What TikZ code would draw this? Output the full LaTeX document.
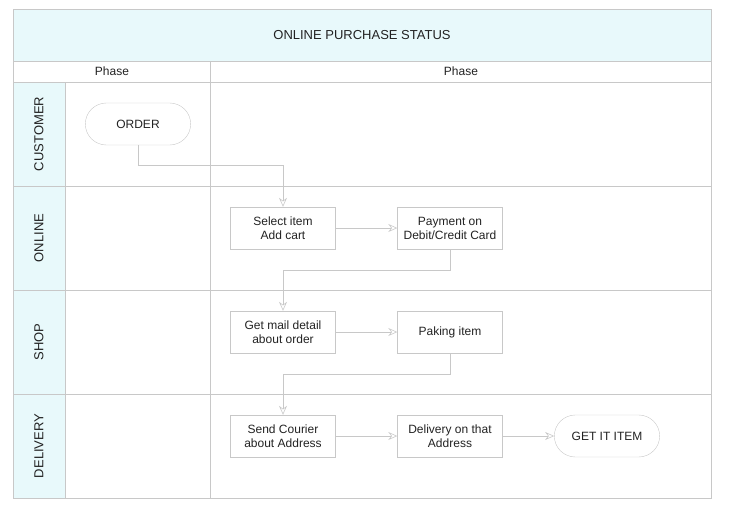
\documentclass[tikz,border=0pt]{standalone}
\usepackage{fontspec}
\setmainfont{Liberation Sans}
\usetikzlibrary{shapes.misc,arrows.meta}
\definecolor{lanefill}{RGB}{232,249,251}
\definecolor{laneline}{RGB}{200,200,200}
\definecolor{inktext}{RGB}{34,34,34}
\begin{document}
\begin{tikzpicture}
    [x=1pt,y=-1pt,
     pre/.style={laneline,semithick,arrows={-{Stealth[open,length=9pt,width=8pt]}}},
     post/.style={laneline,semithick,arrows={{Stealth[open,length=9pt,width=8pt]}-}},
     stepbox/.style={shape=rectangle,draw=laneline,minimum width=105pt,minimum height=42pt,align=center,inner sep=1pt,text=inktext,font=\fontsize{12}{14}\selectfont},
     term/.style={shape=rounded rectangle,draw=laneline,minimum width=112pt,minimum height=42pt,text=inktext,font=\fontsize{12}{14}\selectfont},
     lanetext/.style={rotate=90,text=inktext,font=\fontsize{13}{15}\selectfont}]
    \useasboundingbox (0,0) rectangle (750,512);
    % frame, title band and lane column
    \fill[lanefill] (13,9) rectangle (711,61);
    \fill[lanefill] (13,82) rectangle (65,498);
    \draw[laneline] (13,9) rectangle (711,498);
    \draw[laneline] (13,61) -- (711,61);
    \draw[laneline] (13,82) -- (711,82);
    \draw[laneline] (13,186) -- (711,186);
    \draw[laneline] (13,290) -- (711,290);
    \draw[laneline] (13,394) -- (711,394);
    \draw[laneline] (65,82) -- (65,498);
    \draw[laneline] (210,61) -- (210,498);
    \node[text=inktext,font=\fontsize{13}{15}\selectfont] (title) at (362,35) {ONLINE PURCHASE STATUS};
    \node[text=inktext,font=\fontsize{12}{14}\selectfont] (phaseA) at (112,71) {Phase};
    \node[text=inktext,font=\fontsize{12}{14}\selectfont] (phaseB) at (461,71) {Phase};
    \node[lanetext] (customer) at (39,134) {CUSTOMER};
    \node[lanetext] (online) at (39,238) {ONLINE};
    \node[lanetext] (shop) at (39,342) {SHOP};
    \node[lanetext] (delivery) at (39,446) {DELIVERY};
    % steps
    \node[term] (order) at (138,124) {ORDER};
    \node[stepbox] (select) at (283,228) {Select item\\Add cart};
    \node[stepbox] (payment) at (450,228) {Payment on\\Debit/Credit Card}
      edge [post] (select);
    \node[stepbox] (mail) at (283,332) {Get mail detail\\about order};
    \node[stepbox] (paking) at (450,332) {Paking item}
      edge [post] (mail);
    \node[stepbox] (courier) at (283,436) {Send Courier\\about Address};
    \node[stepbox] (deliver) at (450,436) {Delivery on that\\Address}
      edge [post] (courier);
    \node[term] (getit) at (607,436) {GET IT ITEM}
      edge [post] (deliver);
    % lane crossings
    \draw[pre] (order.south) -- ++(0,20) -| (select.north);
    \draw[pre] (payment.south) -- ++(0,21) -| (mail.north);
    \draw[pre] (paking.south) -- ++(0,21) -| (courier.north);
  \end{tikzpicture}
\end{document}
